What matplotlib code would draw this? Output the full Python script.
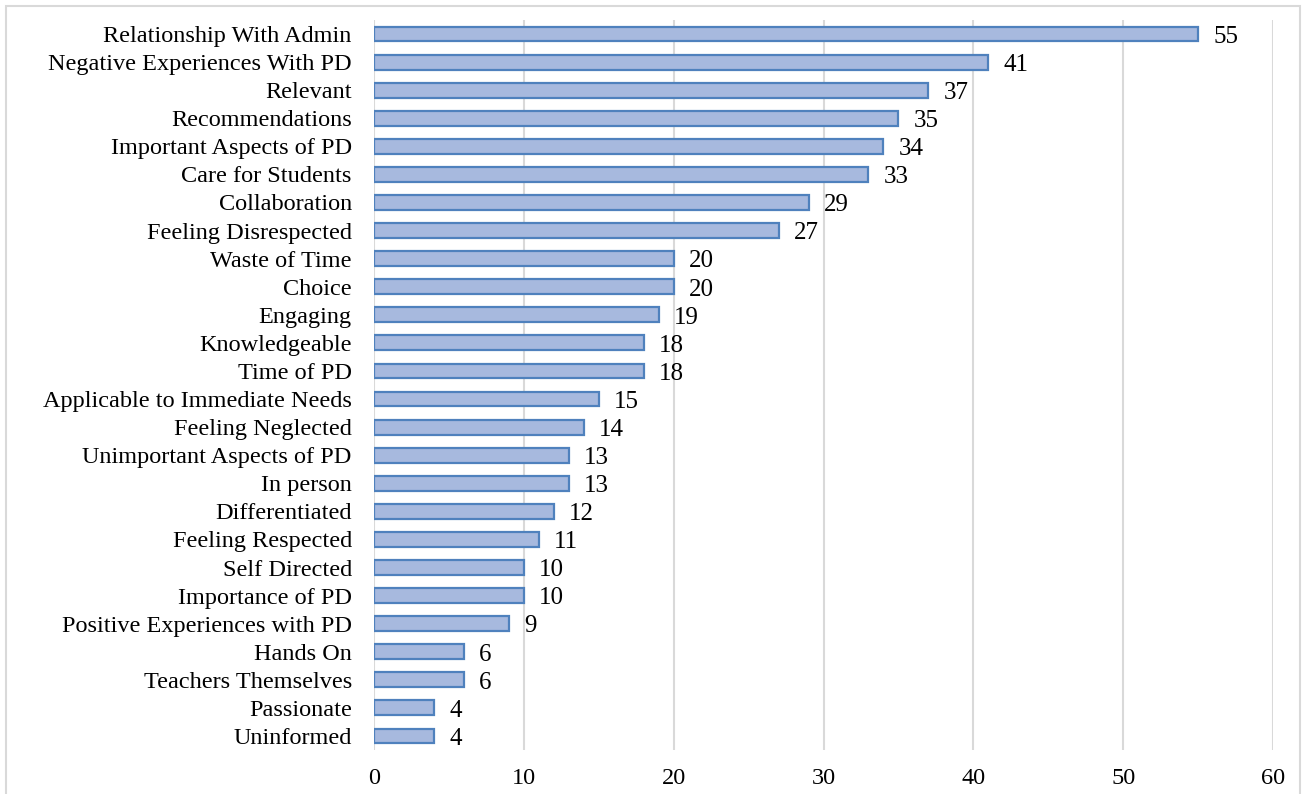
import matplotlib.pyplot as plt
import numpy as np
from matplotlib.patches import Rectangle

categories = [
    "Relationship With Admin",
    "Negative Experiences With PD",
    "Relevant",
    "Recommendations",
    "Important Aspects of PD",
    "Care for Students",
    "Collaboration",
    "Feeling Disrespected",
    "Waste of Time",
    "Choice",
    "Engaging",
    "Knowledgeable",
    "Time of PD",
    "Applicable to Immediate Needs",
    "Feeling Neglected",
    "Unimportant Aspects of PD",
    "In person",
    "Differentiated",
    "Feeling Respected",
    "Self Directed",
    "Importance of PD",
    "Positive Experiences with PD",
    "Hands On",
    "Teachers Themselves",
    "Passionate",
    "Uninformed",
]
counts = [55, 41, 37, 35, 34, 33, 29, 27, 20, 20, 19, 18, 18, 15, 14, 13, 13, 12, 11, 10, 10, 9, 6, 6, 4, 4]
x_ticks = [0, 10, 20, 30, 40, 50, 60]

plt.rcParams["font.family"] = ["Liberation Serif", "DejaVu Serif"]

fig = plt.figure(figsize=(13.04, 7.94), dpi=100)
# light grey frame around the whole chart
fig.add_artist(Rectangle((6 / 1304, -0.05), 1294 / 1304, 1.05 - 6 / 794,
                         transform=fig.transFigure, fill=False,
                         edgecolor="#d9d9d9", linewidth=1.5))

ax = fig.add_axes([374 / 1304, 44 / 794, 899 / 1304, 730 / 794])

y = np.arange(len(categories))
ax.barh(y, counts, height=0.53, color="#a7b9de", edgecolor="#4f81bd",
        linewidth=1.6, zorder=3)

for yi, v in zip(y, counts):
    ax.annotate(str(v), xy=(v, yi), xytext=(11, -2), textcoords="offset points",
                ha="left", va="center", fontsize=18, color="#000000")

ax.set_ylim(len(categories) - 0.5, -0.5)
ax.set_yticks(y)
ax.set_yticklabels(categories, fontsize=17.5)
ax.set_xlim(0, 60)
ax.set_xticks(x_ticks)
ax.set_xticklabels([str(t) for t in x_ticks], fontsize=17.5)
ax.tick_params(axis="both", length=0)
ax.tick_params(axis="y", pad=16)
ax.tick_params(axis="x", pad=13)
ax.grid(True, axis="x", color="#d9d9d9", linewidth=1.5, zorder=0)
for s in ax.spines.values():
    s.set_visible(False)

fig.savefig("out.png", dpi=100)
